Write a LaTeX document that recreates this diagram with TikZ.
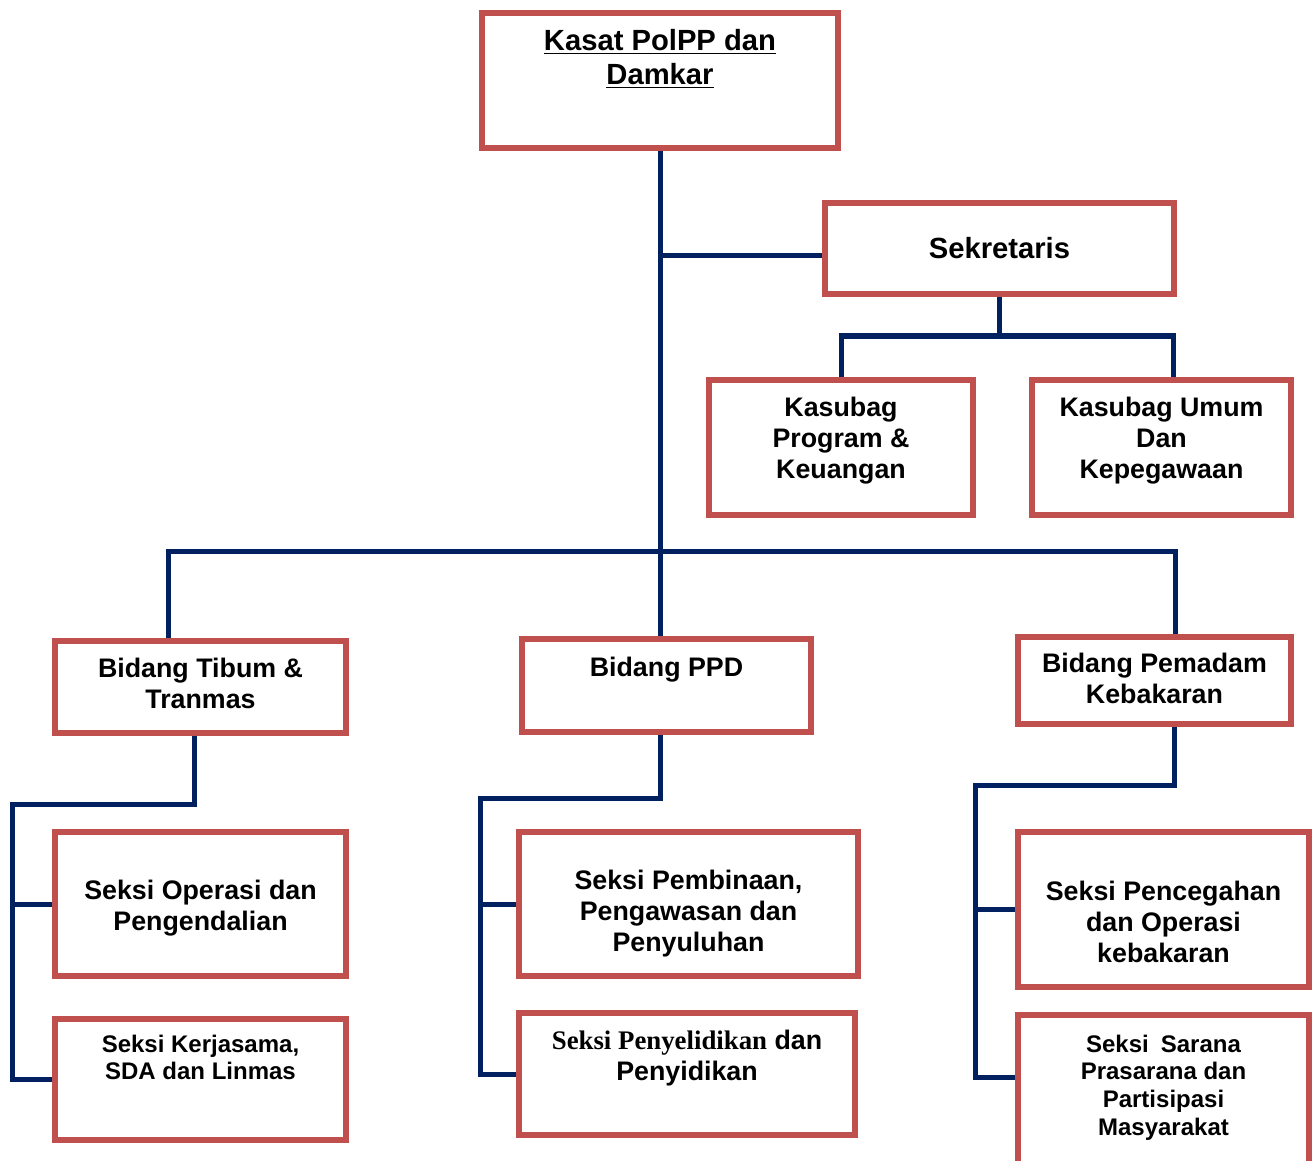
\documentclass[tikz,border=0pt]{standalone}
\usepackage{fontspec}
\setmainfont{Liberation Serif}
\setsansfont{Liberation Sans}
\usetikzlibrary{positioning}
\definecolor{boxred}{HTML}{C0504D}
\definecolor{linenavy}{HTML}{002060}

\begin{document}
\begin{tikzpicture}[x=0.5pt,y=-0.5pt]
    \tikzstyle{block} = [rectangle, draw=boxred, line width=3pt, fill=white,
    inner sep=0pt]
    \tikzstyle{txt} = [align=center, inner sep=0pt,
    font=\sffamily\bfseries\fontsize{13.4}{15.5}\selectfont]
    \tikzstyle{big} = [txt, font=\sffamily\bfseries\fontsize{14.6}{17}\selectfont]
    \tikzstyle{small} = [txt, font=\sffamily\bfseries\fontsize{12}{13.8}\selectfont]
    \tikzstyle{line} = [draw=linenavy, line width=2.5pt]

    \useasboundingbox (0,0) rectangle (1314,1161);
    \clip (0,0) rectangle (1314,1161);

    % Boxes
    \node[block, minimum width=178pt, minimum height=67.5pt] (kasat) at (660,80.5) {};
    \node[block, minimum width=174.5pt, minimum height=45.5pt] (sek) at (999.5,248.5) {};
    \node[block, minimum width=132pt, minimum height=67.5pt] (kprog) at (841,447.5) {};
    \node[block, minimum width=129.5pt, minimum height=67.5pt] (kumum) at (1161.5,447.5) {};
    \node[block, minimum width=145.5pt, minimum height=46pt] (tibum) at (200.5,687) {};
    \node[block, minimum width=144.5pt, minimum height=46.5pt] (ppd) at (666.5,685.5) {};
    \node[block, minimum width=136.5pt, minimum height=43.5pt] (pemadam) at (1154.5,680.5) {};
    \node[block, minimum width=145.5pt, minimum height=72pt] (ops) at (200.5,904) {};
    \node[block, minimum width=145.5pt, minimum height=60.5pt] (kerja) at (200.5,1079.5) {};
    \node[block, minimum width=169.5pt, minimum height=72pt] (bina) at (688.5,904) {};
    \node[block, minimum width=168pt, minimum height=61pt] (lidik) at (687,1074) {};
    \node[block, minimum width=145.5pt, minimum height=77.5pt] (cegah) at (1163.5,909.5) {};
    \node[block, minimum width=145.5pt, minimum height=80pt] (sarana) at (1163.5,1095) {};

    % Texts
    \node[big] (kasatT) at ([yshift=-24.5pt]kasat.north)
      {\underline{Kasat PolPP dan}\\\underline{Damkar}};
    \node[big] (sekT) at (sek.center) {Sekretaris};
    \node[txt] (kprogT) at ([yshift=-31.75pt]kprog.north) {Kasubag\\Program \&\\Keuangan};
    \node[txt] (kumumT) at ([yshift=-31.75pt]kumum.north) {Kasubag Umum\\Dan\\Kepegawaan};
    \node[txt] (tibumT) at ([yshift=-22.75pt]tibum.north) {Bidang Tibum \&\\Tranmas};
    \node[txt] (ppdT) at ([yshift=-17pt]ppd.north) {Bidang PPD};
    \node[txt] (pemadamT) at ([yshift=-22.25pt]pemadam.north) {Bidang Pemadam\\Kebakaran};
    \node[txt] (opsT) at ([yshift=-2pt]ops.center) {Seksi Operasi dan\\Pengendalian};
    \node[small] (kerjaT) at ([yshift=-20.75pt]kerja.north) {Seksi Kerjasama,\\SDA dan Linmas};
    \node[txt] (binaT) at ([yshift=-42.25pt]bina.north)
      {Seksi Pembinaan,\\Pengawasan dan\\Penyuluhan};
    \node[txt] (lidikT) at ([yshift=-24.25pt]lidik.north)
      {{\rmfamily Seksi Penyelidikan} dan\\Penyidikan};
    \node[txt] (cegahT) at ([yshift=-46.25pt]cegah.north)
      {Seksi Pencegahan\\dan Operasi\\kebakaran};
    \node[small] (saranaT) at ([yshift=-37.75pt]sarana.north)
      {Seksi\enspace Sarana\\Prasarana dan\\Partisipasi\\Masyarakat};

    % Lines
    \draw[line] (kasat.south) -- (kasat.south |- ppd.north);
    \draw[line] (kasat.south |- 0,256) -- ([yshift=-3.75pt]sek.west);
    \draw[line] (sek.south) -- ++(0,39) coordinate (sekbus);
    \draw[line] (kprog.north) |- (sekbus) -| ([xshift=5.75pt]kumum.north);

    \coordinate (bus) at (658,551);
    \draw[line] ([xshift=-16.25pt]tibum.north) |- (bus) -| ([xshift=10.25pt]pemadam.north);

    % Tibum
    \coordinate (railA) at (12,800);
    \draw[line] ([xshift=-3.25pt]tibum.south) -- ++(0,68) -| (railA |- kerja.west) -- (kerja.west);
    \draw[line] (railA |- ops.west) -- (ops.west);

    % PPD
    \coordinate (railB) at (480,798);
    \draw[line] ([xshift=-3.25pt]ppd.south) -- ++(0,63) -| (railB |- lidik.west) -- (lidik.west);
    \draw[line] (railB |- bina.west) -- (bina.west);

    % Pemadam
    \coordinate (railC) at (975,785);
    \draw[line] ([xshift=9.75pt]pemadam.south) -- ++(0,58) -| (railC |- 0,1077) -- ([yshift=9pt]sarana.west);
    \draw[line] (railC |- cegah.west) -- (cegah.west);

\end{tikzpicture}
\end{document}
